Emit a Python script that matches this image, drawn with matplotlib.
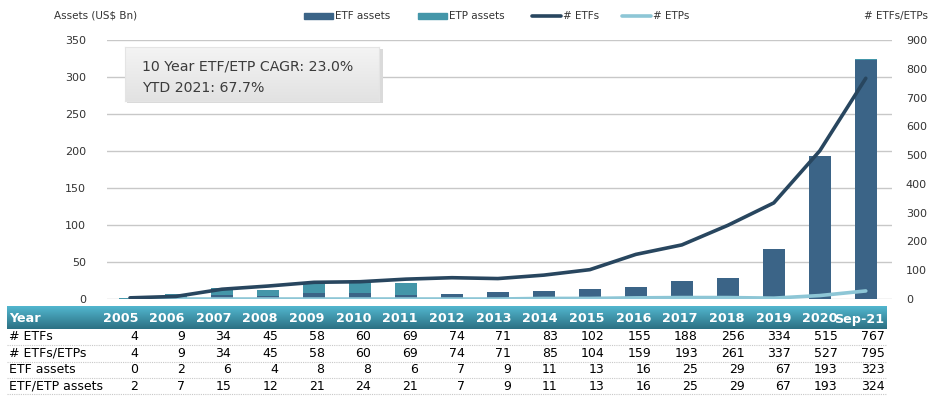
import matplotlib
matplotlib.use("Agg")
import matplotlib.pyplot as plt
import numpy as np
from matplotlib.patches import Rectangle
from matplotlib.lines import Line2D

years = ["2005", "2006", "2007", "2008", "2009", "2010", "2011", "2012", "2013",
         "2014", "2015", "2016", "2017", "2018", "2019", "2020", "Sep-21"]
n_etfs = [4, 9, 34, 45, 58, 60, 69, 74, 71, 83, 102, 155, 188, 256, 334, 515, 767]
n_etfs_etps = [4, 9, 34, 45, 58, 60, 69, 74, 71, 85, 104, 159, 193, 261, 337, 527, 795]
etf_assets = [0, 2, 6, 4, 8, 8, 6, 7, 9, 11, 13, 16, 25, 29, 67, 193, 323]
etf_etp_assets = [2, 7, 15, 12, 21, 24, 21, 7, 9, 11, 13, 16, 25, 29, 67, 193, 324]

etp_assets = [t - e for t, e in zip(etf_etp_assets, etf_assets)]
n_etps = [t - e for t, e in zip(n_etfs_etps, n_etfs)]

C_ETF = "#3B6487"
C_ETP = "#4496A9"
C_LINE = "#28465F"
C_LINE2 = "#8DC6D6"
GRID = "#C8C8C8"
TXT = "#333333"

W, H = 934, 400
fig = plt.figure(figsize=(W / 100, H / 100), dpi=100)
plt.rcParams['font.family'] = ['DejaVu Sans']

def fx(px):
    return px / W

def fy(py):
    return 1 - py / H

ax = fig.add_axes([fx(107), fy(299), fx(892) - fx(107), fy(40) - fy(299)])
x = np.arange(len(years))
ax.set_xlim(-0.5, len(years) - 0.43)
ax.set_ylim(0, 350)
ax.set_yticks(np.arange(0, 351, 50))
ax.yaxis.grid(True, color=GRID, lw=1)
ax.set_axisbelow(True)
for s in ax.spines.values():
    s.set_visible(False)
ax.tick_params(axis='y', length=0, labelsize=8, colors=TXT, pad=15)
ax.set_xticks([])

ax.bar(x, etf_assets, width=0.48, color=C_ETF, zorder=2)
ax.bar(x, etp_assets, width=0.48, bottom=etf_assets, color=C_ETP, zorder=2)

ax2 = ax.twinx()
ax2.set_ylim(0, 900)
ax2.set_yticks(np.arange(0, 901, 100))
for s in ax2.spines.values():
    s.set_visible(False)
ax2.tick_params(axis='y', length=0, labelsize=8, colors=TXT, pad=10)
ax2.plot(x, n_etps, color=C_LINE2, lw=2.6, zorder=3, solid_capstyle='round')
ax2.plot(x, n_etfs, color=C_LINE, lw=2.6, zorder=4, solid_capstyle='round')

# Axis titles
fig.text(fx(54), fy(16), "Assets (US$ Bn)", fontsize=7.5, color=TXT, va='center', ha='left')
fig.text(fx(928), fy(16), "# ETFs/ETPs", fontsize=7.5, color=TXT, va='center', ha='right')

# Legend
leg_y = fy(16)
fig.patches.append(Rectangle((fx(304), fy(19)), fx(29), fy(13) - fy(19), transform=fig.transFigure,
                             color=C_ETF, figure=fig))
fig.text(fx(335), leg_y, "ETF assets", fontsize=7.5, color=TXT, va='center')
fig.patches.append(Rectangle((fx(418), fy(19)), fx(29), fy(13) - fy(19), transform=fig.transFigure,
                             color=C_ETP, figure=fig))
fig.text(fx(449), leg_y, "ETP assets", fontsize=7.5, color=TXT, va='center')
fig.lines.append(Line2D([fx(532), fx(561)], [leg_y, leg_y], transform=fig.transFigure,
                        color=C_LINE, lw=2.6, solid_capstyle='round', figure=fig))
fig.text(fx(563), leg_y, "# ETFs", fontsize=7.5, color=TXT, va='center')
fig.lines.append(Line2D([fx(622), fx(651)], [leg_y, leg_y], transform=fig.transFigure,
                        color=C_LINE2, lw=2.6, solid_capstyle='round', figure=fig))
fig.text(fx(653), leg_y, "# ETPs", fontsize=7.5, color=TXT, va='center')

# Annotation box with gradient and soft shadow
def vgrad(c_top, c_bot):
    a = np.array(matplotlib.colors.to_rgb(c_top))
    b = np.array(matplotlib.colors.to_rgb(c_bot))
    t = np.linspace(0, 1, 60)[:, None]
    return (a[None, :] * (1 - t) + b[None, :] * t)[:, None, :]

sh = fig.add_axes([fx(127), fy(103), fx(256), fy(49) - fy(103)], zorder=5)
sh.set_facecolor("#DADADA")
sh.set_xticks([]); sh.set_yticks([])
for s in sh.spines.values():
    s.set_visible(False)
bx = fig.add_axes([fx(125), fy(101), fx(254), fy(47) - fy(101)], zorder=6)
bx.imshow(vgrad("#F4F4F4", "#E2E2E2"), aspect='auto', extent=[0, 1, 0, 1])
bx.set_xticks([]); bx.set_yticks([])
for s in bx.spines.values():
    s.set_color("#E4E4E4")
    s.set_linewidth(0.8)
bx.text(17 / 254, 1 - 20 / 54, "10 Year ETF/ETP CAGR: 23.0%", fontsize=10.2, color="#3C3C3C",
        va='center', transform=bx.transAxes)
bx.text(17 / 254, 1 - 41 / 54, "YTD 2021: 67.7%", fontsize=10.2, color="#3C3C3C",
        va='center', transform=bx.transAxes)

# Table header gradient
hax = fig.add_axes([fx(7), fy(329), fx(887) - fx(7), fy(306) - fy(329)])
hax.imshow(vgrad("#52B7CF", "#2C7083"), aspect='auto', extent=[0, 1, 0, 1])
hax.axis('off')

col_right = [138 + 46.65 * i for i in range(len(years))]
hdr_y = fy(319)
fig.text(fx(9), hdr_y, "Year", fontsize=9.2, color='white', fontweight='bold', va='center')
for i, yr in enumerate(years):
    fig.text(fx(col_right[i]), hdr_y, yr, fontsize=9.2, color='white', fontweight='bold',
             va='center', ha='right')

rows = [("# ETFs", n_etfs), ("# ETFs/ETPs", n_etfs_etps),
        ("ETF assets", etf_assets), ("ETF/ETP assets", etf_etp_assets)]
row_y = [337, 353.5, 369.5, 386]
for (label, vals), ry in zip(rows, row_y):
    fig.text(fx(9), fy(ry), label, fontsize=9, color='black', va='center')
    for i, v in enumerate(vals):
        fig.text(fx(col_right[i]), fy(ry), str(v), fontsize=9, color='black',
                 va='center', ha='right')
    sep = ry + 8.3
    fig.lines.append(Line2D([fx(7), fx(887)], [fy(sep), fy(sep)], transform=fig.transFigure,
                            color="#C8C8C8", lw=0.8, ls=(0, (1, 1)), figure=fig))

fig.savefig("out.png", dpi=100)
